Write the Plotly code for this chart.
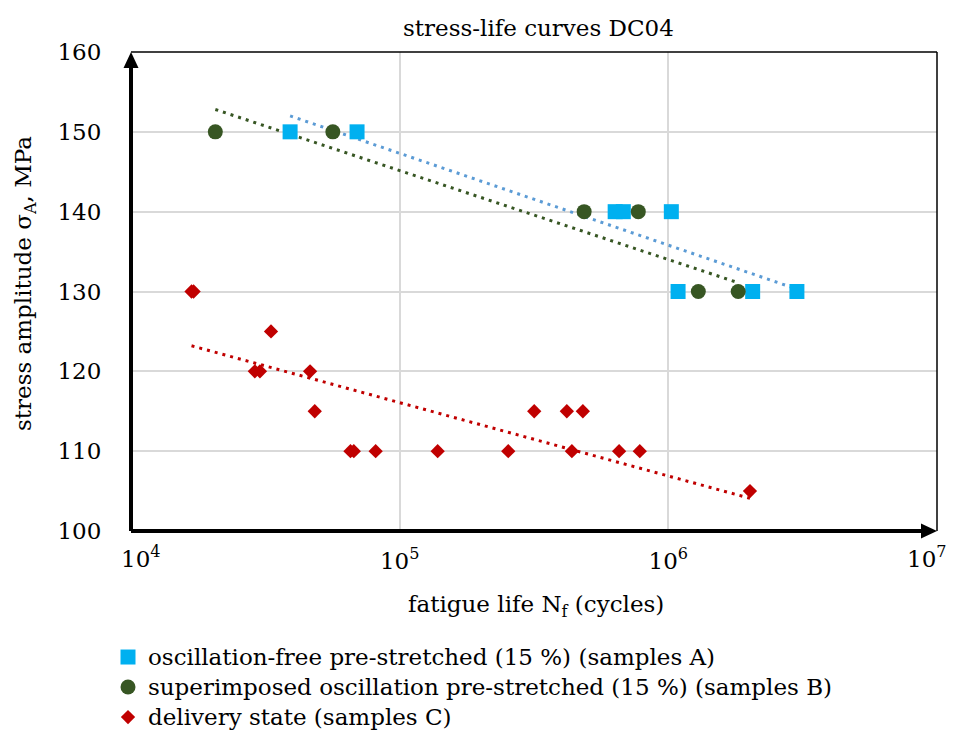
import plotly.graph_objects as go

# ---- data ----
a_cycles = [39100, 69400, 634000, 680000, 1026000, 1087000, 2060000, 3010000]
a_stress = [150, 150, 140, 140, 140, 130, 130, 130]

b_cycles = [20600, 56400, 486000, 773000, 1293000, 1820000]
b_stress = [150, 150, 140, 140, 130, 130]

c_cycles = [16800, 17100, 33200, 28900, 30200, 46400, 48300, 65600, 67500, 81400,
            138500, 253600, 316800, 419000, 480700, 437500, 655800, 783000, 2013000]
c_stress = [130, 130, 125, 120, 120, 120, 115, 110, 110, 110,
            110, 110, 115, 115, 115, 110, 110, 110, 105]

# logarithmic trendlines (end points)
a_trend_cycles = [39100, 3010000]
a_trend_stress = [152.0, 130.3]
b_trend_cycles = [20600, 1820000]
b_trend_stress = [152.8, 131.1]
c_trend_cycles = [16800, 2013000]
c_trend_stress = [123.2, 104.1]

x_tickvals = [1e4, 1e5, 1e6, 1e7]
x_ticktext = ["10<sup>4</sup>", "10<sup>5</sup>", "10<sup>6</sup>", "10<sup>7</sup>"]
y_tickvals = [100, 110, 120, 130, 140, 150, 160]

names = ["oscillation-free pre-stretched (15 %) (samples A)",
         "superimposed oscillation pre-stretched (15 %) (samples B)",
         "delivery state (samples C)"]

FONT = "DejaVu Serif"
FS = 23

fig = go.Figure()

series = [
    (a_cycles, a_stress, a_trend_cycles, a_trend_stress, names[0], "square", 15, "#00B0F0", "#5B9BD5"),
    (b_cycles, b_stress, b_trend_cycles, b_trend_stress, names[1], "circle", 15, "#375623", "#375623"),
    (c_cycles, c_stress, c_trend_cycles, c_trend_stress, names[2], "diamond", 11, "#C00000", "#C00000"),
]

for xs, ys, tx, ty, nm, sym, sz, mcol, lcol in series:
    fig.add_trace(go.Scatter(x=tx, y=ty, mode="lines", showlegend=False,
                             line=dict(color=lcol, width=3, dash="3px,5px"),
                             hoverinfo="skip"))

for xs, ys, tx, ty, nm, sym, sz, mcol, lcol in series:
    fig.add_trace(go.Scatter(x=xs, y=ys, mode="markers",
                             name=f'<span style="font-size:{FS}px">{nm}</span>',
                             marker=dict(symbol=sym, size=sz, color=mcol,
                                         line=dict(width=0))))

# page body has an 8px margin -> figure is placed at (8, 8) in the window
OFF = 8
PL, PT = 131 - OFF, 52 - OFF
PW, PH = 806.0, 479.0
PB = 531 - OFF  # plot bottom in figure pixels

shapes = [
    dict(type="line", xref="paper", yref="paper", x0=0, x1=1, y0=1, y1=1,
         line=dict(color="black", width=1.5)),
    dict(type="line", xref="paper", yref="paper", x0=1, x1=1, y0=0, y1=1,
         line=dict(color="black", width=1.5)),
    dict(type="line", xref="paper", yref="paper", x0=0, x1=0, y0=0, y1=1 - 12 / PH,
         line=dict(color="black", width=4)),
    dict(type="line", xref="paper", yref="paper", x0=0, x1=1 - 12 / PW, y0=0, y1=0,
         line=dict(color="black", width=4)),
    dict(type="path", xref="paper", yref="paper",
         path=f"M {-7.5/PW} {1-16/PH} L {7.5/PW} {1-16/PH} L 0 1 Z",
         fillcolor="black", line=dict(color="black", width=0)),
    dict(type="path", xref="paper", yref="paper",
         path=f"M {1-16/PW} {-7.5/PH} L {1-16/PW} {7.5/PH} L 1 0 Z",
         fillcolor="black", line=dict(color="black", width=0)),
]

annotations = [
    dict(text="stress-life curves DC04", xref="paper", yref="paper",
         x=(538 - 131) / PW, y=(531 - 28) / PH, xanchor="center", yanchor="middle",
         showarrow=False, font=dict(family=FONT, size=FS, color="black")),
    dict(text="fatigue life N<sub>f</sub> (cycles)", xref="paper", yref="paper",
         x=(536 - 131) / PW, y=(531 - 606) / PH, xanchor="center", yanchor="middle",
         showarrow=False, font=dict(family=FONT, size=FS, color="black")),
    dict(text="stress amplitude σ<sub>A</sub>, MPa", xref="paper", yref="paper",
         x=(25 - 131) / PW, y=(531 - 284) / PH, xanchor="center", yanchor="middle",
         textangle=-90,
         showarrow=False, font=dict(family=FONT, size=FS, color="black")),
]

# edge tick labels are nudged inwards in the reference (like the original chart)
edge_shift = {0: 10, len(x_tickvals) - 1: -10}
axis_tickvals, axis_ticktext = [], []
for i, (tv, tt) in enumerate(zip(x_tickvals, x_ticktext)):
    if i in edge_shift:
        annotations.append(dict(text=tt, xref="x", yref="paper",
                                x=[4, 5, 6, 7][i], y=0, xanchor="center", yanchor="top",
                                xshift=edge_shift[i], yshift=-9, showarrow=False,
                                font=dict(family=FONT, size=FS, color="black")))
    else:
        axis_tickvals.append(tv)
        axis_ticktext.append(tt)

fig.update_layout(
    width=PL + int(PW) + 17, height=728,
    margin=dict(l=PL, r=17, t=PT, b=728 - PB, pad=0, autoexpand=False),
    paper_bgcolor="white", plot_bgcolor="white",
    font=dict(family=FONT, size=FS, color="black"),
    xaxis=dict(type="log", range=[4, 7], tickvals=axis_tickvals, ticktext=axis_ticktext,
               showgrid=True, gridcolor="#D9D9D9", gridwidth=2, zeroline=False,
               showline=False, ticks="outside", ticklen=9, automargin=False,
               ticklabeloverflow="allow",
               tickcolor="rgba(0,0,0,0)", tickfont=dict(family=FONT, size=FS)),
    yaxis=dict(range=[100, 160], tickvals=y_tickvals,
               showgrid=True, gridcolor="#D9D9D9", gridwidth=2, zeroline=False,
               showline=False, ticks="outside", ticklen=24, automargin=False,
               ticklabeloverflow="allow",
               tickcolor="rgba(0,0,0,0)", tickfont=dict(family=FONT, size=FS)),
    showlegend=True,
    legend=dict(x=(108 - 131) / PW, xanchor="left", y=(531 - 637) / PH, yanchor="top",
                font=dict(family=FONT, size=20.8, color="black"),
                bgcolor="rgba(0,0,0,0)", itemsizing="trace", tracegroupgap=0),
    shapes=shapes, annotations=annotations,
)

fig.write_html("out.html")
